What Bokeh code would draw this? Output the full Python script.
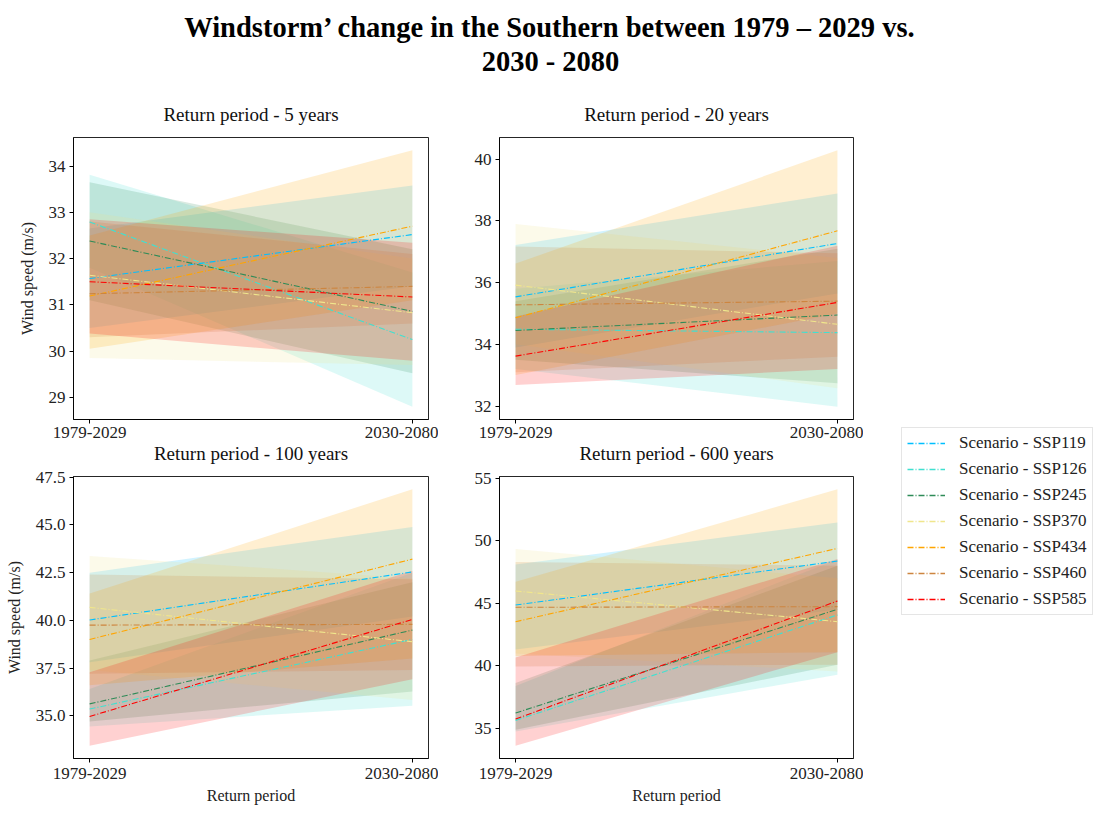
from bokeh.plotting import figure
from bokeh.models import Range1d, FixedTicker, Label, Legend, LegendItem, NumeralTickFormatter, Title
from bokeh.layouts import column, row
from bokeh.embed import file_html
from bokeh.resources import INLINE

FONT = "Liberation Serif"

# ---------------- data ----------------
periods = ["1979-2029", "2030-2080"]
scenarios = ["Scenario - SSP119", "Scenario - SSP126", "Scenario - SSP245", "Scenario - SSP370",
             "Scenario - SSP434", "Scenario - SSP460", "Scenario - SSP585"]
colors = ["#00BFFF", "#40E0D0", "#2E8B57", "#F0E68C", "#FFA500", "#CD853F", "#FF0000"]
panel_titles = ["Return period - 5 years", "Return period - 20 years",
                "Return period - 100 years", "Return period - 600 years"]

# Return period 5 years: [1979-2029, 2030-2080] per scenario
rp5_mean = [[31.57, 32.52], [32.79, 30.25], [32.38, 30.86], [31.64, 30.83], [31.19, 32.70], [31.24, 31.40], [31.50, 31.17]]
rp5_low  = [[30.50, 31.40], [31.80, 28.80], [31.10, 29.52], [29.85, 29.70], [30.05, 31.10], [30.30, 30.60], [30.38, 29.79]]
rp5_high = [[32.65, 33.58], [33.81, 31.70], [33.65, 32.20], [33.00, 32.00], [32.50, 34.34], [32.80, 32.10], [32.85, 32.34]]

# Return period 20 years
rp20_mean = [[35.54, 37.27], [34.49, 34.38], [34.45, 34.95], [35.92, 34.65], [34.86, 37.68], [35.28, 35.40], [33.62, 35.36]]
rp20_low  = [[33.90, 35.65], [33.20, 31.98], [33.50, 32.74], [34.00, 32.58], [33.01, 35.00], [33.10, 33.60], [32.68, 33.20]]
rp20_high = [[37.22, 38.89], [35.80, 36.70], [35.40, 37.10], [37.90, 36.80], [36.62, 40.29], [37.17, 36.95], [34.90, 37.20]]

# Return period 100 years
rp100_mean = [[40.02, 42.54], [35.35, 39.00], [35.62, 39.49], [40.68, 38.88], [39.00, 43.21], [39.75, 39.79], [34.96, 40.05]]
rp100_low  = [[37.80, 40.20], [34.44, 35.53], [34.70, 36.27], [37.40, 35.83], [36.60, 38.00], [37.20, 37.40], [33.43, 36.91]]
rp100_high = [[42.50, 44.90], [36.40, 42.50], [37.90, 42.00], [43.38, 42.20], [41.41, 46.87], [42.40, 42.15], [37.28, 42.60]]

# Return period 600 years
rp600_mean = [[44.86, 48.37], [35.65, 44.07], [36.24, 44.52], [45.98, 43.53], [43.53, 49.38], [44.68, 44.73], [35.76, 45.18]]
rp600_low  = [[41.30, 44.50], [34.77, 39.30], [34.90, 40.10], [41.00, 39.55], [40.80, 41.10], [39.95, 40.10], [33.63, 41.10]]
rp600_high = [[48.10, 51.45], [38.40, 48.50], [38.63, 48.00], [49.33, 47.00], [46.72, 54.10], [48.30, 48.00], [40.67, 48.53]]

yticks5 = [29, 30, 31, 32, 33, 34]
yticks20 = [32, 34, 36, 38, 40]
yticks100 = [35.0, 37.5, 40.0, 42.5, 45.0, 47.5]
yticks600 = [35, 40, 45, 50, 55]

x_pos = [0, 1]
DASH = "6 2 1 2"


def style_title(t):
    t.align = "center"
    t.text_font = FONT
    t.text_font_size = "19px"
    t.text_font_style = "normal"
    t.text_color = "#111111"


def make_panel(title, mean, low, high, yticks, width, height, borders, xlabel, ylabel,
               title_standoff=None, below_title=None, x_label_standoff=5, fmt=None):
    lo = min(min(v) for v in low)
    hi = max(max(v) for v in high)
    pad = 0.05 * (hi - lo)
    p = figure(width=width, height=height, toolbar_location=None, output_backend="svg",
               title=title, x_range=Range1d(-0.05, 1.05), y_range=Range1d(lo - pad, hi + pad))
    p.min_border_left, p.min_border_right, p.min_border_top, p.min_border_bottom = borders
    if title is not None:
        style_title(p.title)
        p.title.standoff = title_standoff
    for c, l, h in zip(colors, low, high):
        p.varea(x=x_pos, y1=l, y2=h, fill_color=c, fill_alpha=0.18)
    for c, m in zip(colors, mean):
        p.line(x=x_pos, y=m, line_color=c, line_width=1.1, line_dash=DASH)
    p.xgrid.visible = False
    p.ygrid.visible = False
    p.outline_line_color = "black"
    p.outline_line_width = 1
    p.outline_line_alpha = 0.85
    p.xaxis.ticker = FixedTicker(ticks=[0, 1])
    p.xaxis.major_label_overrides = {0: periods[0], 1: periods[1]}
    p.yaxis.ticker = FixedTicker(ticks=yticks)
    if fmt:
        p.yaxis.formatter = NumeralTickFormatter(format=fmt)
    for ax in (p.xaxis[0], p.yaxis[0]):
        ax.axis_line_color = "black"
        ax.axis_line_alpha = 0.85
        ax.major_tick_in = 0
        ax.major_tick_out = 4
        ax.major_tick_line_color = "black"
        ax.minor_tick_line_color = None
        ax.major_label_text_font = FONT
        ax.major_label_text_font_size = "17px"
        ax.major_label_text_color = "#222222"
        ax.major_label_standoff = 4
        ax.axis_label_text_font = FONT
        ax.axis_label_text_font_size = "16px"
        ax.axis_label_text_font_style = "normal"
        ax.axis_label_text_color = "#222222"
    p.xaxis.major_label_standoff = x_label_standoff
    if xlabel:
        p.xaxis.axis_label = xlabel
        p.xaxis.axis_label_standoff = 5
    if ylabel:
        p.yaxis.axis_label = ylabel
        p.yaxis.axis_label_standoff = 10
    if below_title is not None:
        # title of the panel underneath, drawn in this panel's lower margin
        t = Title(text=below_title, standoff=0)
        style_title(t)
        p.add_layout(t, "below")
    return p


p1 = make_panel(panel_titles[0], rp5_mean, rp5_low, rp5_high, yticks5, 438, 377, (73, 10, 48, 47),
                None, "Wind speed (m/s)", title_standoff=25, below_title=panel_titles[2], x_label_standoff=3)
p2 = make_panel(panel_titles[1], rp20_mean, rp20_low, rp20_high, yticks20, 425, 377, (61, 10, 48, 47),
                None, None, title_standoff=25, below_title=panel_titles[3], x_label_standoff=3)
p3 = make_panel(None, rp100_mean, rp100_low, rp100_high, yticks100, 438, 344, (73, 10, 10, 52),
                "Return period", "Wind speed (m/s)", fmt="0.0")
p4 = make_panel(None, rp600_mean, rp600_low, rp600_high, yticks600, 425, 344, (61, 10, 10, 52),
                "Return period", None)

# ---------------- title ----------------
tf = figure(width=1096, height=89, toolbar_location=None, output_backend="svg",
            x_range=Range1d(0, 1), y_range=Range1d(0, 1), x_axis_type=None, y_axis_type=None,
            min_border=0, min_border_left=0, min_border_right=0, min_border_top=0, min_border_bottom=0)
tf.outline_line_color = None
tf.xgrid.visible = False
tf.ygrid.visible = False
for txt, yy in [("Windstorm\u2019 change in the Southern between 1979 \u2013 2029 vs.", 62), ("2030 - 2080", 28)]:
    tf.add_layout(Label(x=550, y=yy, x_units="screen", y_units="screen", text=txt,
                        text_align="center", text_baseline="middle", text_font=FONT,
                        text_font_size="28.5px", text_font_style="bold", text_color="black"))

# ---------------- legend ----------------
# The legend panel holds the same series as the first panel; its ranges put them
# under the (opaque) legend box so only the legend entries are seen.
lf = figure(width=233, height=721, toolbar_location=None, output_backend="svg",
            x_range=Range1d(-0.3, 1.3), y_range=Range1d(24.9, 41.5), x_axis_type=None, y_axis_type=None,
            min_border=0, min_border_left=0, min_border_right=0, min_border_top=0, min_border_bottom=0)
lf.outline_line_color = None
lf.xgrid.visible = False
lf.ygrid.visible = False
items = []
for s, c, m in zip(scenarios, colors, rp5_mean):
    r = lf.line(x=x_pos, y=m, line_color=c, line_width=1.5, line_alpha=1.0, line_dash=DASH)
    items.append(LegendItem(label=s, renderers=[r]))
legend = Legend(items=items, location=(38, 195), label_text_font=FONT, label_text_font_size="17px",
                label_text_color="#222222", glyph_width=38, glyph_height=20, label_height=20,
                label_standoff=14, spacing=6, padding=5, margin=0,
                border_line_color="#cccccc", border_line_width=1,
                background_fill_color="white", background_fill_alpha=1.0)
lf.add_layout(legend, "center")

layout = column(tf, row(column(row(p1, p2), row(p3, p4)), lf))
open("out.html", "w").write(file_html(layout, INLINE))
